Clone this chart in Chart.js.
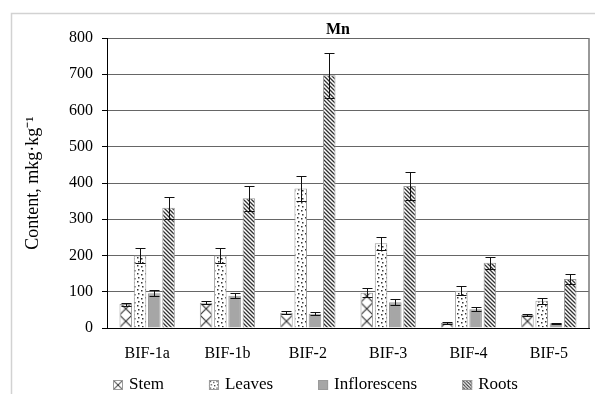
<!DOCTYPE html>
<html>
<head>
<meta charset="utf-8">
<script src="https://cdn.jsdelivr.net/npm/chart.js@4/dist/chart.umd.min.js"></script>
<style>
  html, body { margin: 0; padding: 0; background: #fff; }
  #wrap { width: 595px; height: 394px; }
</style>
</head>
<body>
<div id="wrap"><canvas id="chart" width="595" height="394"></canvas></div>
<script>
// Manganese content by plant organ for each sample
const categories = ['BIF-1a', 'BIF-1b', 'BIF-2', 'BIF-3', 'BIF-4', 'BIF-5'];
const seriesNames = ['Stem', 'Leaves', 'Inflorescens', 'Roots'];

const stem = [66, 70, 42, 97, 14, 36];
const leaves = [200, 200, 385, 234, 103, 75];
const inflorescens = [96, 89, 39, 71, 52, 13];
const roots = [332, 358, 697, 392, 180, 135];

// standard deviations shown as error bars
const stemErr = [4, 5, 4, 12, 2, 3];
const leavesErr = [20, 20, 35, 18, 12, 8];
const inflorescensErr = [9, 7, 4, 8, 6, 2];
const rootsErr = [30, 35, 63, 38, 16, 14];

const yTicks = [0, 100, 200, 300, 400, 500, 600, 700, 800];

const FONT = "'Liberation Serif', 'Times New Roman', serif";

// ---- fill patterns ----
const PATTERN_UNIT = 12;
function makePattern(size, draw) {
  const c = document.createElement('canvas');
  c.width = size; c.height = size;
  const g = c.getContext('2d');
  g.fillStyle = '#fff';
  g.fillRect(0, 0, size, size);
  draw(g, size);
  return g.createPattern(c, 'repeat');
}
const ctxMain = document.getElementById('chart').getContext('2d');

function crossPattern() {
  return makePattern(PATTERN_UNIT, (g, s) => {
    g.strokeStyle = '#333';
    g.lineWidth = 1.1;
    g.beginPath();
    g.moveTo(0, 0); g.lineTo(s, s);
    g.moveTo(s, 0); g.lineTo(0, s);
    g.stroke();
  });
}
const dotPattern = makePattern(8, (g) => {
  g.fillStyle = '#333';
  [[1, 1], [5, 2], [2, 5], [6, 6]].forEach(([x, y]) => g.fillRect(x, y, 1.5, 1.5));
});
const stripePattern = makePattern(4, (g, s) => {
  g.strokeStyle = '#333';
  g.lineWidth = 1.3;
  g.beginPath();
  g.moveTo(-1, -1); g.lineTo(s + 1, s + 1);
  g.moveTo(-1, s - 1); g.lineTo(1, s + 1);
  g.moveTo(s - 1, -1); g.lineTo(s + 1, 1);
  g.stroke();
});
const greyFill = '#a6a6a6';

// one cross-hatch per stem bar so each hatch can be anchored to its own bar
const stemFills = categories.map(() => crossPattern());

const seriesValues = [stem, leaves, inflorescens, roots];
const seriesErrors = [stemErr, leavesErr, inflorescensErr, rootsErr];
const seriesFills = [stemFills, dotPattern, greyFill, stripePattern];
const legendFills = [crossPattern(), dotPattern, greyFill, stripePattern];

const datasets = seriesNames.map((name, i) => ({
  label: name,
  data: seriesValues[i],
  errors: seriesErrors[i],
  legendFill: legendFills[i],
  backgroundColor: seriesFills[i],
  borderColor: '#9a9a9a',
  borderWidth: 1,
  categoryPercentage: 0.71,
  barPercentage: 0.88
}));

// ---- plugins ----
const framePlugin = {
  id: 'frame',
  beforeDraw(chart) {
    const c = chart.ctx;
    c.save();
    c.fillStyle = '#fff';
    c.fillRect(0, 0, chart.width, chart.height);
    c.strokeStyle = '#d2d2d2';
    c.lineWidth = 1.5;
    c.beginPath();
    c.moveTo(11.5, chart.height);
    c.lineTo(11.5, 13.5);
    c.lineTo(chart.width, 13.5);
    c.stroke();
    c.restore();
  }
};

const plotBorderPlugin = {
  id: 'plotBorder',
  beforeDatasetsDraw(chart) {
    const a = chart.chartArea, c = chart.ctx;
    c.save();
    c.strokeStyle = '#777';
    c.lineWidth = 1.5;
    c.beginPath();
    c.moveTo(a.right, a.top);
    c.lineTo(a.right, a.bottom);
    c.stroke();
    c.restore();
    // anchor hatch patterns to the left/bottom corner of each bar
    chart.data.datasets.forEach((ds, i) => {
      chart.getDatasetMeta(i).data.forEach(bar => {
        const p = bar.options.backgroundColor;
        if (Array.isArray(ds.backgroundColor) && p && p.setTransform) {
          const left = bar.x - bar.width / 2;
          const k = bar.width / PATTERN_UNIT;
          p.setTransform(new DOMMatrix().translate(left, bar.base).scale(k, k));
        }
      });
    });
  }
};

const errorBarPlugin = {
  id: 'errorBars',
  afterDatasetsDraw(chart) {
    const c = chart.ctx, y = chart.scales.y;
    c.save();
    c.strokeStyle = '#111';
    c.lineWidth = 1;
    chart.data.datasets.forEach((ds, i) => {
      const meta = chart.getDatasetMeta(i);
      meta.data.forEach((bar, j) => {
        const v = ds.data[j], e = ds.errors[j];
        const x = Math.round(bar.x) + 0.5;
        const yt = Math.round(y.getPixelForValue(v + e)) + 0.5;
        const yb = Math.round(y.getPixelForValue(v - e)) + 0.5;
        c.beginPath();
        c.moveTo(x, yt); c.lineTo(x, yb);
        c.moveTo(x - 5, yt); c.lineTo(x + 5, yt);
        c.moveTo(x - 5, yb); c.lineTo(x + 5, yb);
        c.stroke();
      });
    });
    c.restore();
  }
};

// single-row legend under the category labels
const bottomLegendPlugin = {
  id: 'bottomLegend',
  afterDraw(chart) {
    const c = chart.ctx, a = chart.chartArea;
    const box = 10, gap = 6, spacing = 45;
    const yMid = chart.height - 9;
    c.save();
    c.font = "17px " + FONT;
    c.textBaseline = 'middle';
    c.textAlign = 'left';
    let x = a.left + 6;
    chart.data.datasets.forEach(ds => {
      const top = yMid - box / 2;
      c.save();
      c.translate(x, top);
      c.scale(box / PATTERN_UNIT, box / PATTERN_UNIT);
      c.fillStyle = ds.legendFill;
      c.fillRect(0, 0, PATTERN_UNIT, PATTERN_UNIT);
      c.restore();
      c.strokeStyle = ds.borderColor;
      c.lineWidth = 1;
      c.strokeRect(x + 0.5, top + 0.5, box - 1, box - 1);
      c.fillStyle = '#000';
      c.fillText(ds.label, x + box + gap, yMid);
      x += box + gap + c.measureText(ds.label).width + spacing;
    });
    c.restore();
  }
};

const titleShiftPlugin = {
  id: 'titleShift',
  afterLayout(chart) {
    const t = chart.titleBlock;
    if (t) { t.left -= 10; t.right -= 10; }
  }
};

new Chart(ctxMain, {
  type: 'bar',
  data: { labels: categories, datasets },
  plugins: [framePlugin, plotBorderPlugin, errorBarPlugin, bottomLegendPlugin, titleShiftPlugin],
  options: {
    responsive: false,
    animation: false,
    devicePixelRatio: 1,
    layout: { padding: { left: 19, right: 6, top: 21, bottom: 31 } },
    plugins: {
      title: {
        display: true,
        text: 'Mn',
        fullSize: false,
        color: '#000',
        font: { family: FONT, size: 16, weight: 'bold', lineHeight: 17 / 16 },
        padding: 0
      },
      legend: { display: false },
      tooltip: { enabled: false }
    },
    scales: {
      x: {
        grid: { display: false, drawTicks: false },
        border: { color: '#000', width: 1 },
        ticks: { color: '#000', font: { family: FONT, size: 16 }, padding: 16, maxRotation: 0 },
        afterFit(scale) { scale.height = 35; }
      },
      y: {
        min: 0,
        max: 800,
        afterBuildTicks(scale) { scale.ticks = yTicks.map(v => ({ value: v })); },
        afterFit(scale) { scale.width = 88; },
        grid: { color: '#666', lineWidth: 1, drawTicks: true, tickLength: 5, tickColor: '#000' },
        border: { color: '#000', width: 1 },
        ticks: { color: '#000', font: { family: FONT, size: 16 }, padding: 9 },
        title: {
          display: true,
          text: 'Content, mkg·kg⁻¹',
          color: '#000',
          font: { family: FONT, size: 18 },
          padding: { top: 3, bottom: 0 }
        }
      }
    }
  }
});
</script>
</body>
</html>
